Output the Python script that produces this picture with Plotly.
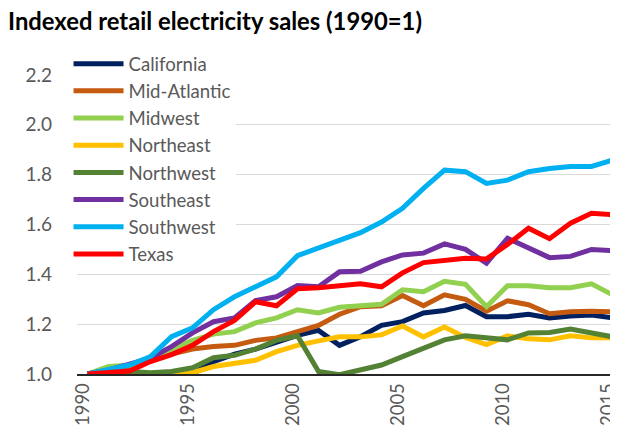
import plotly.graph_objects as go

years = list(range(1990, 2016))
series_names = ["California", "Mid-Atlantic", "Midwest", "Northeast",
                "Northwest", "Southeast", "Southwest", "Texas"]
california = [1.0, 1.0, 1.0, 1.0, 1.0, 1.0, 1.05, 1.08, 1.10, 1.13, 1.155, 1.175, 1.115, 1.15, 1.195,
              1.21, 1.245, 1.255, 1.275, 1.23, 1.23, 1.24, 1.225, 1.233, 1.237, 1.225]
mid_atlantic = [1.0, 1.02, 1.03, 1.06, 1.08, 1.10, 1.11, 1.115, 1.135, 1.145, 1.17, 1.195, 1.24, 1.27,
                1.274, 1.315, 1.274, 1.318, 1.30, 1.252, 1.294, 1.278, 1.242, 1.25, 1.252, 1.25]
midwest = [1.0, 1.03, 1.035, 1.06, 1.10, 1.135, 1.16, 1.17, 1.205, 1.225, 1.258, 1.245, 1.268, 1.272,
           1.28, 1.338, 1.33, 1.372, 1.36, 1.27, 1.354, 1.354, 1.346, 1.346, 1.362, 1.318]
northeast = [1.0, 1.0, 1.0, 1.0, 1.0, 1.005, 1.03, 1.04, 1.055, 1.09, 1.115, 1.133, 1.149, 1.149,
             1.157, 1.193, 1.149, 1.189, 1.147, 1.118, 1.153, 1.141, 1.137, 1.153, 1.145, 1.145]
northwest = [1.0, 1.01, 1.01, 1.005, 1.01, 1.025, 1.065, 1.075, 1.1, 1.135, 1.153, 1.01, 0.997, 1.018,
             1.036, 1.07, 1.105, 1.137, 1.153, 1.147, 1.137, 1.165, 1.167, 1.18, 1.165, 1.149]
southeast = [1.0, 1.016, 1.04, 1.064, 1.11, 1.165, 1.21, 1.225, 1.295, 1.31, 1.355, 1.35, 1.41, 1.412,
             1.45, 1.478, 1.485, 1.522, 1.50, 1.445, 1.545, 1.507, 1.467, 1.472, 1.5, 1.495]
southwest = [1.0, 1.016, 1.036, 1.07, 1.15, 1.185, 1.258, 1.31, 1.35, 1.39, 1.475, 1.505, 1.535, 1.567,
             1.61, 1.665, 1.745, 1.818, 1.812, 1.765, 1.778, 1.812, 1.825, 1.833, 1.833, 1.858]
texas = [1.0, 1.008, 1.012, 1.05, 1.078, 1.115, 1.17, 1.215, 1.29, 1.274, 1.342, 1.346, 1.356, 1.362,
         1.35, 1.406, 1.447, 1.455, 1.465, 1.462, 1.52, 1.585, 1.543, 1.605, 1.645, 1.64]

x_ticks = [1990, 1995, 2000, 2005, 2010, 2015]
y_ticks = [1.0, 1.2, 1.4, 1.6, 1.8, 2.0, 2.2]

all_series = [california, mid_atlantic, midwest, northeast, northwest, southeast, southwest, texas]
colors = ["#002060", "#C55A11", "#92D050", "#FFC000", "#548235", "#7030A0", "#00B0F0", "#FF0000"]

fig = go.Figure()
for name, vals, col in zip(series_names, all_series, colors):
    fig.add_trace(go.Scatter(x=years, y=vals, name=name, mode="lines",
                             line=dict(color=col, width=5)))

FONT = "Lato"
fig.update_layout(
    width=618, height=432,
    margin=dict(l=69, r=3, t=67, b=66),
    paper_bgcolor="white", plot_bgcolor="white",
    font=dict(family=FONT, color="#595959", size=19),
    title=dict(text="<b>Indexed retail electricity sales (1990=1)</b>",
               x=0, xanchor="left", y=1-14/432, yanchor="middle", pad=dict(l=0, t=0),
               font=dict(family=FONT, size=23.8, color="black")),
    legend=dict(x=-0.0155, xanchor="left", y=1.1, yanchor="top",
                bgcolor="white", font=dict(size=18.6, color="#595959"),
                tracegroupgap=0, itemwidth=50, maxheight=1.0),
    showlegend=True,
)
fig.update_xaxes(range=[1989.5, 2015.5], tickvals=x_ticks, ticktext=[str(v) for v in x_ticks],
                 tickangle=-90, showgrid=False, showline=True, linecolor="#262626", linewidth=1.5,
                 ticks="", zeroline=False, tickfont=dict(size=18.5), ticklabelshift=-5)
fig.update_yaxes(range=[1.0, 2.2], tickvals=y_ticks, ticktext=[f"{v:.1f}" for v in y_ticks],
                 showgrid=True, gridcolor="#D9D9D9", gridwidth=1.3, zeroline=False,
                 showline=False, ticks="", ticklabelstandoff=24, tickfont=dict(size=19))

fig.write_html("out.html")
